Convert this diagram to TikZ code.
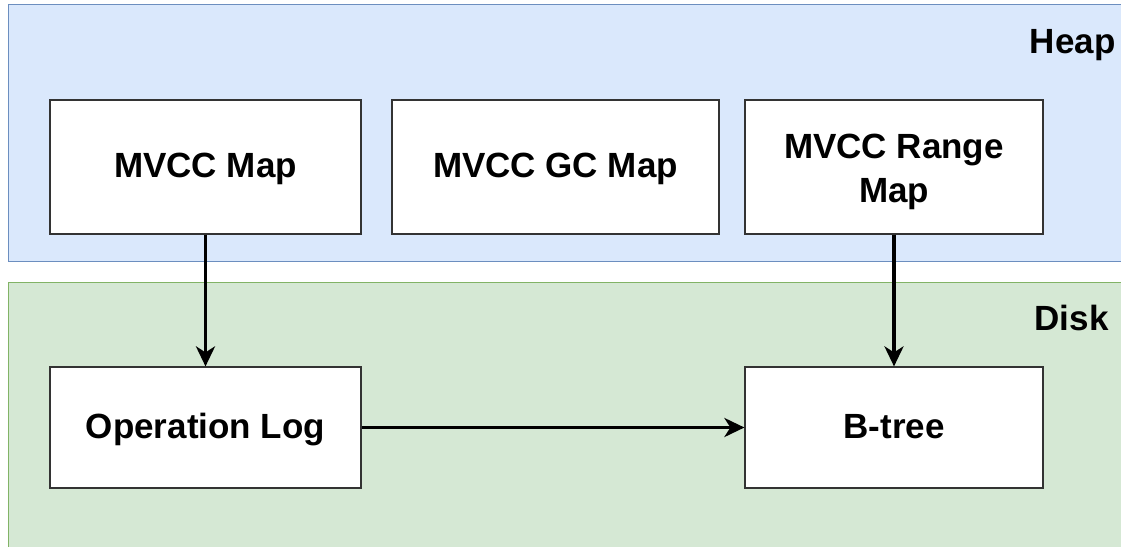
\documentclass[tikz,border=0pt]{standalone}
\usepackage{fontspec}
\setmainfont{Liberation Sans}
\usetikzlibrary{arrows.meta}

\definecolor{heapfill}{HTML}{DAE8FC}
\definecolor{heapline}{HTML}{6C8EBF}
\definecolor{diskfill}{HTML}{D5E8D4}
\definecolor{diskline}{HTML}{82B366}

\begin{document}
\begin{tikzpicture}[x=1pt, y=-1pt,
		store/.style = {draw=black!80, fill=white, line width=1.2pt, align=center,
			font=\fontsize{35}{44}\selectfont\bfseries, inner sep=0pt,
			text height=27pt, text depth=6pt},
		label/.style = {anchor=east, font=\fontsize{35}{42}\selectfont\bfseries},
		flow/.style = {line width=3.5pt, -{Stealth[length=20pt, width=19pt, inset=6pt]}}]
		\useasboundingbox (0,0) rectangle (1121,546);
		
		% memory regions
		\fill[heapfill, draw=heapline, line width=1pt] (8,4) rectangle (1130,261);
		\fill[diskfill, draw=diskline, line width=1pt] (8,282) rectangle (1130,560);
		\node[label] (heap) at (1119,45) {Heap};
		\node[label] (disk) at (1112,318) {Disk};
		
		\node[store, minimum width=311pt, minimum height=134pt] (map) at (205.5,167) {MVCC Map};
		\node[store, minimum width=327pt, minimum height=134pt] (gcmap) at (555.5,167) {MVCC GC Map};
		\node[store, minimum width=298pt, minimum height=134pt, text height=71pt, text depth=1pt] (rangemap) at (894,167) {MVCC Range\\Map};
		\node[store, minimum width=311pt, minimum height=121pt] (oplog) at (205.5,427.5) {Operation Log};
		\node[store, minimum width=298pt, minimum height=121pt] (btree) at (894,427.5) {B-tree};
		
		\draw[flow] (map) -- (oplog);
		\draw[flow] (rangemap) -- (btree);
		\draw[flow] (oplog) -- (btree);
	\end{tikzpicture}
\end{document}
